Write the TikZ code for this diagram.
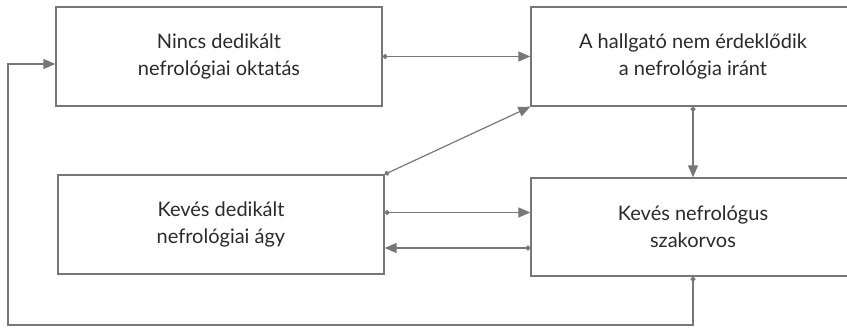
\documentclass[tikz,border=0pt]{standalone}
\usepackage{fontspec}
\setmainfont{Lato}
\usetikzlibrary{arrows.meta}
\definecolor{linegray}{HTML}{777777}
\definecolor{textgray}{HTML}{2A2A2A}

\begin{document}
\begin{tikzpicture}[x=1pt,y=-1pt,
  box/.style={draw=linegray, line width=1.3pt, rectangle, text=textgray, align=center,
    font=\fontsize{20}{27}\selectfont, inner sep=0pt},
  link/.style={draw=linegray, line width=1.2pt, {Circle[length=5pt]}-{Triangle[length=12pt,width=10pt]}}]
  \useasboundingbox (0,0) rectangle (847,329);
  \node [box, minimum width=326pt, minimum height=99pt] (noedu) at (219,56.5) {Nincs dedikált\\nefrológiai oktatás};
  \node [box, minimum width=324pt, minimum height=99pt] (nointerest) at (693,56.5) {A hallgató nem érdeklődik\\a nefrológia iránt};
  \node [box, minimum width=326pt, minimum height=99pt] (nobed) at (221,224.5) {Kevés dedikált\\nefrológiai ágy};
  \node [box, minimum width=324pt, minimum height=98pt] (nodoc) at (693,227) {Kevés nefrológus\\szakorvos};
  \coordinate (bedout) at ([yshift=12pt]nobed.east);
  \coordinate (docout) at ([yshift=-21pt]nodoc.west);
  \coordinate (eduin) at ([yshift=-7.5pt]noedu.west);
  \draw [link] (noedu.east) -- (noedu.east -| nointerest.west);
  \draw [link] (nobed.north east) -- (nointerest.south west);
  \draw [link] (bedout) -- (bedout -| nodoc.west);
  \draw [link] (docout) -- (docout -| nobed.east);
  \draw [link] (nointerest.south) -- (nodoc.north);
  \draw [link] (nodoc.south) |- (8,325) |- (eduin);
\end{tikzpicture}
\end{document}
